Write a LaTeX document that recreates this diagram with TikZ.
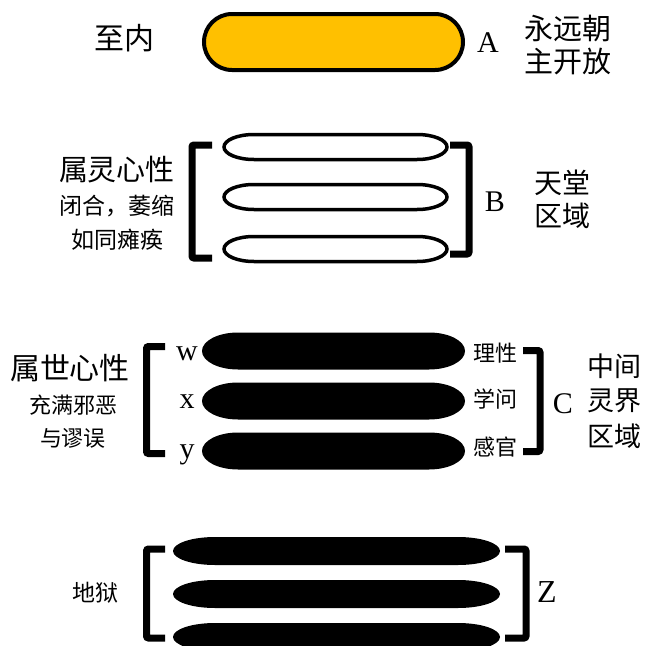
\documentclass[tikz,border=0pt]{standalone}
\usepackage{fontspec}
\newfontfamily\cjk{Noto Sans CJK SC}
\newfontfamily\lat{Liberation Serif}
\definecolor{gold}{HTML}{FFC000}
\newcommand{\mkpill}[6]{%
  \path[#6] (#1+#5,#3-#4) arc[start angle=270,end angle=90,x radius=#5,y radius=#4]
    -- (#2-#5,#3+#4) arc[start angle=90,end angle=-90,x radius=#5,y radius=#4] -- cycle;}
\tikzset{
  brk/.style={line width=7pt, rounded corners=2pt},
  cj/.style={inner sep=0pt, font=\cjk\fontsize{#1}{#1}\selectfont},
  lt/.style={inner sep=0pt, anchor=base, font=\lat\fontsize{30}{30}\selectfont},
  pillA/.style={draw=black, fill=gold, line width=4pt},
  pillB/.style={draw=black, fill=white, line width=3.5pt},
  pillD/.style={fill=black},
}
\begin{document}
\begin{tikzpicture}[x=1pt,y=-1pt]
\useasboundingbox (0,0) rectangle (649,646);
% A
\mkpill{204}{463}{42}{28}{28}{pillA}
\node[cj=30] (zhinei) at (124,38) {至内};
\node[lt] (la) at (488,52) {A};
\node[cj=29] (a1) at (568,28) {永远朝};
\node[cj=29] (a2) at (568,62) {主开放};
% B
\mkpill{224}{447}{147}{12.5}{30}{pillB}
\mkpill{224}{447}{197}{12.5}{30}{pillB}
\mkpill{224}{447}{249}{12.5}{30}{pillB}
\draw[brk] (212,145) -- (192,145) -- (192,258) -- (212,258);
\draw[brk] (450,145) -- (469,145) -- (469,254) -- (450,254);
\node[cj=29] (b1) at (117,170) {属灵心性};
\node[cj=23] (b2) at (117,206) {闭合，萎缩};
\node[cj=23] (b3) at (117,240) {如同瘫痪};
\node[lt] (lb) at (495,211) {B};
\node[cj=28] (b4) at (562,183) {天堂};
\node[cj=28] (b5) at (562,216) {区域};
% C
\mkpill{202}{465}{351}{18.5}{36}{pillD}
\mkpill{202}{465}{401}{18.5}{36}{pillD}
\mkpill{202}{465}{451}{18.5}{36}{pillD}
\draw[brk] (165,346.5) -- (146.5,346.5) -- (146.5,453.5) -- (165,453.5);
\draw[brk] (523,350.5) -- (540,350.5) -- (540,451.5) -- (523,451.5);
\node[lt] (lw) at (187,360) {w};
\node[lt] (lx) at (187,408) {x};
\node[lt] (ly) at (187,458) {y};
\node[cj=22] (c1) at (495,353) {理性};
\node[cj=22] (c2) at (495,399) {学问};
\node[cj=22] (c3) at (495,447) {感官};
\node[cj=30] (c4) at (70,368) {属世心性};
\node[cj=22] (c5) at (74,405) {充满邪恶};
\node[cj=22] (c6) at (73,438) {与谬误};
\node[lt] (lc) at (563,413) {C};
\node[cj=27] (c7) at (614,366) {中间};
\node[cj=27] (c8) at (614,401) {灵界};
\node[cj=27] (c9) at (614,436) {区域};
% Z
\mkpill{173}{500}{551}{14}{42}{pillD}
\mkpill{173}{500}{594}{14}{42}{pillD}
\mkpill{173}{500}{637}{14}{42}{pillD}
\draw[brk] (165,549) -- (146.5,549) -- (146.5,638) -- (165,638);
\draw[brk] (505,549) -- (526,549) -- (526,638) -- (505,638);
\node[lt, font=\lat\fontsize{32}{32}\selectfont] (lz) at (547,602) {Z};
\node[cj=23] (z1) at (95,593) {地狱};
\end{tikzpicture}
\end{document}
